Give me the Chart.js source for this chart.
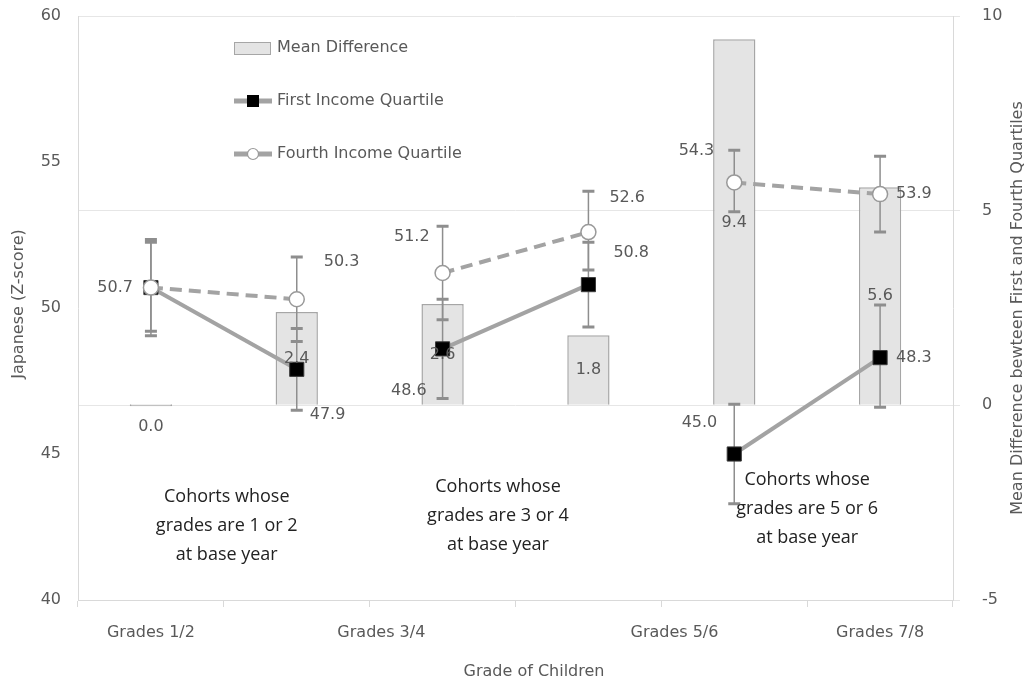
<!DOCTYPE html>
<html lang="en">
<head>
<meta charset="UTF-8">
<title>Japanese Z-score by Income Quartile</title>
<script src="https://cdn.jsdelivr.net/npm/chart.js"></script>
<style>
  * { margin:0; padding:0; box-sizing:border-box; }
  html,body { width:100%; height:100%; overflow:hidden; background:#fff; }
  #wrap { position:relative; width:1033px; height:687px; }
</style>
</head>
<body>
<div id="wrap"><canvas id="chart"></canvas></div>
<script>
// six points: base year + follow-up for each of three cohorts
const categories = ['G1/2 base', 'G1/2 follow', 'G3/4 base', 'G3/4 follow', 'G5/6 base', 'G5/6 follow'];
const xTickLabels = ['Grades 1/2', 'Grades 3/4', 'Grades 5/6', 'Grades 7/8'];

const meanDiff   = [0.0, 2.4, 2.6, 1.8, 9.4, 5.6];
const firstQ     = [50.7, 47.9, 48.6, 50.8, 45.0, 48.3];
const firstLow   = [49.05, 46.5, 46.9, 49.35, 43.3, 46.6];
const firstHigh  = [52.25, 49.3, 50.3, 52.25, 46.7, 50.1];
const fourthQ    = [50.7, 50.3, 51.2, 52.6, 54.3, 53.9];
const fourthLow  = [49.2, 48.85, 49.6, 51.3, 53.3, 52.6];
const fourthHigh = [52.35, 51.75, 52.8, 54.0, 55.4, 55.2];

const leftTicks  = [40, 45, 50, 55, 60];
const rightTicks = [-5, 0, 5, 10];

const cohortNotes = [
  ['Cohorts whose', 'grades are 1 or 2', 'at base year'],
  ['Cohorts whose', 'grades are 3 or 4', 'at base year'],
  ['Cohorts whose', 'grades are 5 or 6', 'at base year']
];

const FONT = 'DejaVu Sans';
const TXT = '#595959';
const LINE = '#a3a3a3';
Chart.defaults.font.family = FONT;

// only join base year to follow-up within a cohort
const gap = ctx => ctx.p0DataIndex % 2 === 1 ? 'rgba(0,0,0,0)' : undefined;

const extras = {
  id: 'extras',
  afterDatasetDraw(chart, args) {
    if (args.index !== 0) return; // error bars sit above the bars, below the lines
    const ctx = chart.ctx, x = chart.scales.x, y = chart.scales.y;
    ctx.save();
    ctx.strokeStyle = '#8e8e8e';
    [[firstLow, firstHigh], [fourthLow, fourthHigh]].forEach(([lo, hi]) => {
      lo.forEach((v, i) => {
        const px = x.getPixelForValue(i);
        const y1 = y.getPixelForValue(v), y2 = y.getPixelForValue(hi[i]);
        ctx.lineWidth = 1.5;
        ctx.beginPath(); ctx.moveTo(px, y1); ctx.lineTo(px, y2); ctx.stroke();
        ctx.lineWidth = 3;
        ctx.beginPath();
        ctx.moveTo(px - 6, y1); ctx.lineTo(px + 6, y1);
        ctx.moveTo(px - 6, y2); ctx.lineTo(px + 6, y2);
        ctx.stroke();
      });
    });
    ctx.restore();
  },
  afterDatasetsDraw(chart) {
    const ctx = chart.ctx, x = chart.scales.x, y = chart.scales.y, y2 = chart.scales.y2;
    ctx.save();
    ctx.font = '16px ' + FONT;
    ctx.fillStyle = TXT;
    ctx.textBaseline = 'middle';
    // bar labels
    ctx.textAlign = 'center';
    meanDiff.forEach((v, i) => {
      const px = x.getPixelForValue(i);
      const top = y2.getPixelForValue(v), base = y2.getPixelForValue(0);
      const py = v === 0 ? base + 22 : (top + base) / 2;
      ctx.fillText(v.toFixed(1), px, py);
    });
    const fourthPos = [[-18, 0, 'right'], [27, -37, 'left'], [-13, -36, 'right'], [21, -34, 'left'], [-20, -32, 'right'], [16, 0, 'left']];
    const firstPos  = [null, [13, 46, 'left'], [-16, 42, 'right'], [25, -32, 'left'], [-17, -31, 'right'], [16, 0, 'left']];
    [[fourthQ, fourthPos], [firstQ, firstPos]].forEach(([vals, pos]) => {
      vals.forEach((v, i) => {
        if (!pos[i]) return;
        const px = x.getPixelForValue(i), py = y.getPixelForValue(v);
        ctx.textAlign = pos[i][2];
        ctx.fillText(v.toFixed(1), px + pos[i][0], py + pos[i][1]);
      });
    });
    ctx.restore();
  },
  afterDraw(chart) {
    const ctx = chart.ctx, x = chart.scales.x, area = chart.chartArea;
    const step = x.getPixelForValue(1) - x.getPixelForValue(0);
    const x0 = x.getPixelForValue(0);
    ctx.save();
    ctx.textBaseline = 'middle';

    // x tick labels (Excel put them off-centre)
    ctx.font = '16px ' + FONT;
    ctx.fillStyle = TXT;
    ctx.textAlign = 'center';
    const at = [0, 1.58, 3.59, 5];
    xTickLabels.forEach((t, i) => ctx.fillText(t, x0 + at[i] * step, area.bottom + 33));

    // axis titles
    ctx.font = '16px ' + FONT;
    ctx.fillText('Grade of Children', 534, 672);
    ctx.save();
    ctx.translate(19, (area.top + area.bottom) / 2 - 4);
    ctx.rotate(-Math.PI / 2);
    ctx.fillText('Japanese (Z-score)', 0, 0);
    ctx.restore();
    ctx.save();
    ctx.translate(1018, (area.top + area.bottom) / 2);
    ctx.rotate(-Math.PI / 2);
    ctx.fillText('Mean Difference bewteen First and Fourth Quartiles', 0, 0);
    ctx.restore();

    // cohort notes
    ctx.font = '18px "Open Sans"';
    ctx.fillStyle = '#222';
    const noteX = [x0 + 0.52 * step, x0 + 2.38 * step, x0 + 4.5 * step];
    const noteY = [497, 487, 480];
    cohortNotes.forEach((lines, k) => {
      lines.forEach((t, j) => ctx.fillText(t, noteX[k], noteY[k] + j * 29));
    });

    // legend
    const lx = 234;
    ctx.font = '16px ' + FONT;
    ctx.textAlign = 'left';
    ctx.fillStyle = '#e4e4e4';
    ctx.fillRect(lx, 42, 36, 12);
    ctx.strokeStyle = '#a6a6a6';
    ctx.lineWidth = 1;
    ctx.strokeRect(lx + 0.5, 42.5, 36, 12);
    ctx.fillStyle = TXT;
    ctx.fillText('Mean Difference', 277, 48);

    ctx.strokeStyle = LINE;
    ctx.lineWidth = 5;
    ctx.beginPath(); ctx.moveTo(lx, 101); ctx.lineTo(lx + 38, 101); ctx.stroke();
    ctx.fillStyle = '#000';
    ctx.fillRect(lx + 13, 95, 12, 12);
    ctx.fillStyle = TXT;
    ctx.fillText('First Income Quartile', 277, 101);

    ctx.beginPath(); ctx.moveTo(lx, 154); ctx.lineTo(lx + 38, 154); ctx.stroke();
    ctx.fillStyle = '#fff';
    ctx.strokeStyle = '#999';
    ctx.lineWidth = 1.2;
    ctx.beginPath(); ctx.arc(lx + 19, 154, 5.5, 0, Math.PI * 2); ctx.fill(); ctx.stroke();
    ctx.fillStyle = TXT;
    ctx.fillText('Fourth Income Quartile', 277, 154);
    ctx.restore();
  }
};

const fitV = w => s => { s.width = w; s.paddingTop = 0; s.paddingBottom = 0; };

new Chart(document.getElementById('chart'), {
  data: {
    labels: categories,
    datasets: [
      {
        type: 'bar', label: 'Mean Difference', data: meanDiff, yAxisID: 'y2', order: 3,
        backgroundColor: '#e4e4e4', borderColor: '#a6a6a6', borderWidth: 1.5,
        barPercentage: 0.29, categoryPercentage: 1, minBarLength: 2
      },
      {
        type: 'line', label: 'First Income Quartile', data: firstQ, yAxisID: 'y', order: 2,
        borderColor: LINE, borderWidth: 4, pointStyle: 'rect', pointRadius: 10,
        pointBackgroundColor: '#000', pointBorderColor: '#3a3a3a', pointBorderWidth: 1,
        segment: { borderColor: gap }
      },
      {
        type: 'line', label: 'Fourth Income Quartile', data: fourthQ, yAxisID: 'y', order: 1,
        borderColor: LINE, borderWidth: 4, borderDash: [12, 7], pointStyle: 'circle', pointRadius: 7.5,
        pointBackgroundColor: '#fff', pointBorderColor: '#999', pointBorderWidth: 1.5,
        segment: { borderColor: gap }
      }
    ]
  },
  options: {
    responsive: true,
    maintainAspectRatio: false,
    animation: false,
    layout: { padding: { top: 16, left: 0, right: 0, bottom: 0 } },
    plugins: { legend: { display: false }, tooltip: { enabled: false } },
    scales: {
      x: {
        type: 'category',
        offset: true,
        grid: { offset: true, drawOnChartArea: false, color: '#d9d9d9', tickLength: 7 },
        border: { color: '#d9d9d9' },
        ticks: { display: false },
        afterFit: s => { s.height = 87; s.paddingLeft = 0; s.paddingRight = 0; }
      },
      y: {
        position: 'left', min: 40, max: 60,
        afterBuildTicks: s => { s.ticks = leftTicks.map(v => ({ value: v })); },
        grid: { display: false, drawTicks: false },
        border: { color: '#d9d9d9' },
        ticks: { color: TXT, font: { size: 16 }, padding: 17 },
        afterFit: fitV(78)
      },
      y2: {
        position: 'right', min: -5, max: 10,
        afterBuildTicks: s => { s.ticks = rightTicks.map(v => ({ value: v })); },
        grid: { color: '#e6e6e6', tickLength: 7 },
        border: { color: '#d9d9d9' },
        ticks: { color: TXT, font: { size: 16 }, padding: 22 },
        afterFit: fitV(80)
      }
    }
  },
  plugins: [extras]
});
</script>
</body>
</html>
